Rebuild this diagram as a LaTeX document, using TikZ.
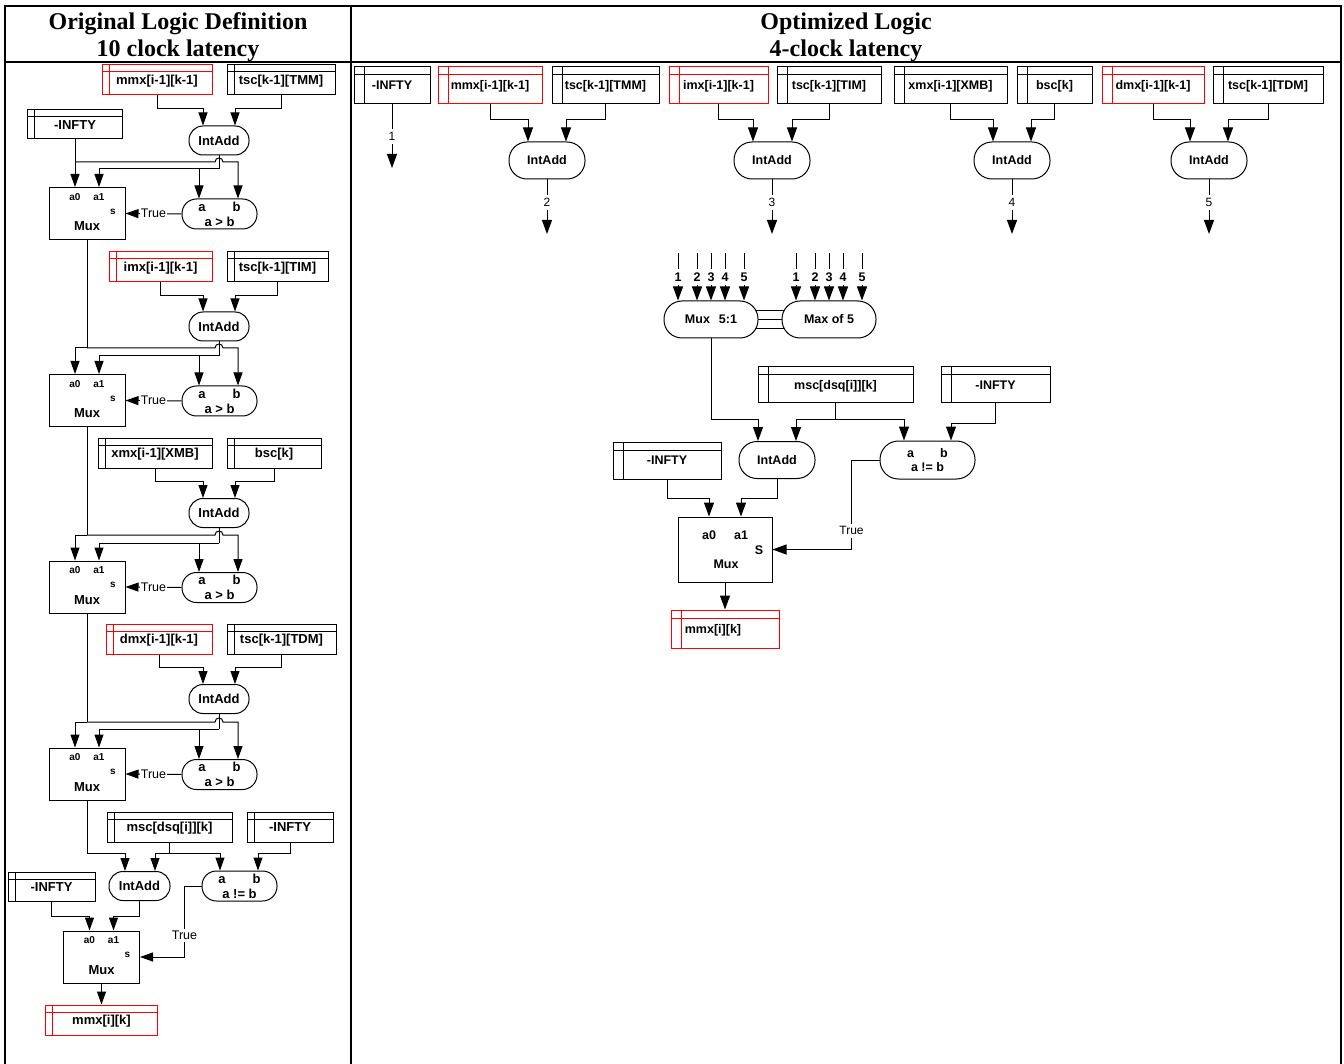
\documentclass[tikz,border=0pt]{standalone}
\usepackage{fontspec}
\setmainfont{Liberation Serif}
\newfontfamily\arialfont{Liberation Sans}
\usetikzlibrary{arrows.meta,backgrounds,calc}

\tikzset{
  wire/.style={line width=1pt},
  arrL/.style={wire,-{Triangle[length=13pt,width=9pt]}},
  arrR/.style={wire,-{Triangle[length=14pt,width=10pt]}},
  frameline/.style={line width=2.4pt},
  titletext/.style={font=\bfseries\fontsize{24}{27}\selectfont, align=center, inner sep=0pt},
  fL/.style={font=\arialfont\bfseries\fontsize{13}{15}\selectfont},
  fR/.style={font=\arialfont\bfseries\fontsize{12.5}{14}\selectfont},
  fS/.style={font=\arialfont\bfseries\fontsize{10}{12}\selectfont},
  fLplain/.style={font=\arialfont\fontsize{12.5}{15}\selectfont},
  fRplain/.style={font=\arialfont\fontsize{12}{14}\selectfont},
  capL/.style={text height=9.3pt, text depth=0pt},
  capR/.style={text height=8.9pt, text depth=0pt},
  store/.style n args={3}{draw=#3, line width=1pt, fill=white, inner sep=0pt,
    path picture={
      \draw[line width=1pt,#3]
        ([xshift=#1]path picture bounding box.north west) --
        ([xshift=#1]path picture bounding box.south west)
        ([yshift=-#2]path picture bounding box.north west) --
        ([yshift=-#2]path picture bounding box.north east);
    }},
  storeL/.style={store={7pt}{7pt}{black}, fL, capL, minimum height=30pt},
  storeLred/.style={store={7pt}{7pt}{red}, fL, capL, minimum height=30pt},
  storeR/.style={store={10pt}{8pt}{black}, fR, capR, minimum height=37pt},
  storeRred/.style={store={10pt}{8pt}{red}, fR, capR, minimum height=37pt},
  roundbox/.style={draw, line width=1pt, fill=white, inner sep=0pt, align=center},
  addL/.style={roundbox, fL, capL, rounded corners=14pt, minimum width=60pt, minimum height=29pt},
  cmpL/.style={roundbox, fL, rounded corners=14.5pt, minimum width=75pt, minimum height=30pt},
  addR/.style={roundbox, fR, capR, rounded corners=18pt, minimum width=76pt, minimum height=37pt},
  cmpR/.style={roundbox, fR, rounded corners=18.5pt, minimum width=95pt, minimum height=38pt},
  muxbox/.style={draw, line width=1pt, fill=white, inner sep=0pt},
  tag/.style={inner sep=0pt},
  gapL/.style={fLplain, fill=white, inner xsep=1pt, inner ysep=2pt},
  gapR/.style={fRplain, fill=white, inner xsep=2pt, inner ysep=3pt},
  numR/.style={fRplain, fill=white, inner xsep=1pt, inner ysep=3.5pt},
  numB/.style={fR, fill=white, inner xsep=1pt, inner ysep=3.5pt},
}

% two-input multiplexer of the left column
\newcommand{\muxL}[3]{%
  \node[muxbox, minimum width=76pt, minimum height=52pt] (#1) at (#2,#3) {};
  \node[fS, tag] (#1-a0) at ($(#1.center)+(-12,-16.5)$) {a0};
  \node[fS, tag] (#1-a1) at ($(#1.center)+(12,-16.5)$) {a1};
  \node[fS, tag] (#1-s) at ($(#1.center)+(26,-2)$) {s};
  \node[fL, tag] (#1-t) at ($(#1.center)+(0,13)$) {Mux};
}

% add / compare / select stage of the sequential chain
% #1 id, #2 #3 input boxes, #4 adder y, #5 mux y, #6 running-max y, #7 sum y
\newcommand{\accstage}[7]{%
  \node[addL] (#1add) at (219,#4) {IntAdd};
  \muxL{#1mux}{87}{#5}
  \node[cmpL] (#1cmp) at (219.5,#5+0.5) {a\hspace{27pt}b\\a > b};
  \coordinate (#1inL) at ($(#1add.north)+(-16,0)$);
  \coordinate (#1inR) at ($(#1add.north)+(16,0)$);
  \coordinate (#1sum) at (219,#7);
  \coordinate (#1pa) at ($(#1cmp.north)+(-20.5,0)$);
  \coordinate (#1pb) at ($(#1cmp.north)+(18.5,0)$);
  \draw[arrL] (#2.south) -- ++(0,13) -| (#1inL);
  \draw[arrL] (#3.south) -- ++(0,13) -| (#1inR);
  \draw[wire] (#1add.south) -- (#1sum);
  \draw[arrL] (#1sum) -| ($(#1mux.north)+(12,0)$);
  \draw[arrL] (#1pa |- #1sum) -- (#1pa);
  \draw[arrL] (#1run) -| ($(#1mux.north)+(-12,0)$);
  \draw[arrL] (#1run) -- (215,#6) .. controls (215,#6-5.3) and (223,#6-5.3) .. (223,#6) -| (#1pb);
  \draw[arrL] (#1cmp.west) -- (#1mux.east) node[midway, gapL] (#1true) {True};
}

\begin{document}
\begin{tikzpicture}[x=1pt,y=-1pt]
\useasboundingbox (0,0) rectangle (1344,1064);

% table frame
\draw[frameline] (4.7,1064) -- (4.7,6) -- (1341,6) -- (1341,1064);
\draw[frameline] (4.7,62) -- (1341,62);
\draw[frameline] (351,6) -- (351,1064);

\node[titletext] (titleL) at (178,37) {Original Logic Definition\\10 clock latency};
\node[titletext] (titleR) at (846,37) {Optimized Logic\\4-clock latency};

% ================= left column: sequential chain =================
\node[storeLred, minimum width=110pt] (Lmmx) at (157,80) {mmx[i-1][k-1]};
\node[storeL, minimum width=108pt] (Ltmm) at (281,80) {tsc[k-1][TMM]};
\node[storeL, minimum width=95pt, minimum height=29pt] (Linf1) at (75,124.5) {-INFTY};
\coordinate (S1run) at (75,162);
\draw[wire] (Linf1.south) -- (S1run);
\accstage{S1}{Lmmx}{Ltmm}{140.5}{213.5}{162}{169}

\node[storeLred, minimum width=103pt] (Limx) at (160.5,267) {imx[i-1][k-1]};
\node[storeL, minimum width=101pt] (Ltim) at (277.5,267) {tsc[k-1][TIM]};
\coordinate (S2run) at (87,348);
\draw[wire] (S1mux.south) -- (S2run);
\accstage{S2}{Limx}{Ltim}{326.5}{400.5}{348}{356}

\node[storeL, minimum width=114pt] (Lxmx) at (155,453) {xmx[i-1][XMB]};
\node[storeL, minimum width=94pt] (Lbsc) at (274,453) {bsc[k]};
\coordinate (S3run) at (87,535);
\draw[wire] (S2mux.south) -- (S3run);
\accstage{S3}{Lxmx}{Lbsc}{513}{587}{535}{543}

\node[storeLred, minimum width=106pt] (Ldmx) at (159,639) {dmx[i-1][k-1]};
\node[storeL, minimum width=109pt] (Ltdm) at (281.5,639) {tsc[k-1][TDM]};
\coordinate (S4run) at (87,722);
\draw[wire] (S3mux.south) -- (S4run);
\accstage{S4}{Ldmx}{Ltdm}{699}{774}{722}{729}

% final select
\node[storeL, minimum width=125pt] (Lmsc) at (169.5,827) {msc[dsq[i]][k]};
\node[storeL, minimum width=86pt] (Linf2) at (290,827) {-INFTY};
\node[storeL, minimum width=87pt, minimum height=29pt] (Linf3) at (51.5,886.5) {-INFTY};
\node[addL, minimum width=61pt] (Ladd5) at (139.5,886) {IntAdd};
\node[cmpL] (Lcmpne) at (239.5,886) {a\hspace{27pt}b\\a != b};
\muxL{Lmux5}{101.5}{957}
\node[storeLred, minimum width=112pt] (Lout) at (101.5,1020) {mmx[i][k]};

\draw[arrL] (S4mux.south) -- ++(0,53) -| ($(Ladd5.north)+(-14.5,0)$);
\draw[arrL] (Lmsc.south) -- ++(0,11) -| ($(Ladd5.north)+(15.5,0)$);
\draw[arrL] (Lmsc.south) -- ++(0,11) -| ($(Lcmpne.north)+(-19.5,0)$);
\draw[arrL] (Linf2.south) -- ++(0,11) -| ($(Lcmpne.north)+(18.5,0)$);
\draw[arrL] (Linf3.south) -- ++(0,15) -| ($(Lmux5.north)+(-12,0)$);
\draw[arrL] (Ladd5.south) -- ++(0,15) -| ($(Lmux5.north)+(12,0)$);
\draw[arrL] (Lcmpne.west) -- ++(-17,0) |- (Lmux5.east) node[pos=0.35, gapL] (Ltrue5) {True};
\draw[arrL] (Lmux5.south) -- (Lout.north);

% ================= right column: parallel form =================
\node[storeR, minimum width=76pt] (Rinf1) at (392,85.5) {-INFTY};
\node[storeRred, minimum width=104pt] (Rmmx) at (490,85.5) {mmx[i-1][k-1]};
\node[storeR, minimum width=107pt] (Rtmm) at (605.5,85.5) {tsc[k-1][TMM]};
\node[storeRred, minimum width=99pt] (Rimx) at (718.5,85.5) {imx[i-1][k-1]};
\node[storeR, minimum width=104pt] (Rtim) at (829,85.5) {tsc[k-1][TIM]};
\node[storeR, minimum width=113pt] (Rxmx) at (950.5,85.5) {xmx[i-1][XMB]};
\node[storeR, minimum width=75pt] (Rbsc) at (1054.5,85.5) {bsc[k]};
\node[storeRred, minimum width=102pt] (Rdmx) at (1153,85.5) {dmx[i-1][k-1]};
\node[storeR, minimum width=110pt] (Rtdm) at (1268,85.5) {tsc[k-1][TDM]};

\node[addR] (RaddA) at (547,160.5) {IntAdd};
\node[addR] (RaddB) at (772,160.5) {IntAdd};
\node[addR] (RaddC) at (1012,160.5) {IntAdd};
\node[addR] (RaddD) at (1209,160.5) {IntAdd};

\draw[arrR] (Rmmx.south) -- ++(0,15) -| ($(RaddA.north)+(-19,0)$);
\draw[arrR] (Rtmm.south) -- ++(0,15) -| ($(RaddA.north)+(19,0)$);
\draw[arrR] (Rimx.south) -- ++(0,15) -| ($(RaddB.north)+(-19,0)$);
\draw[arrR] (Rtim.south) -- ++(0,15) -| ($(RaddB.north)+(20,0)$);
\draw[arrR] (Rxmx.south) -- ++(0,15) -| ($(RaddC.north)+(-19,0)$);
\draw[arrR] (Rbsc.south) -- ++(0,15) -| ($(RaddC.north)+(19,0)$);
\draw[arrR] (Rdmx.south) -- ++(0,15) -| ($(RaddD.north)+(-19,0)$);
\draw[arrR] (Rtdm.south) -- ++(0,15) -| ($(RaddD.north)+(19,0)$);

\coordinate (o1) at (392,168);
\coordinate (o2) at (547,234);
\coordinate (o3) at (772,234);
\coordinate (o4) at (1012,234);
\coordinate (o5) at (1209,234);
\draw[arrR] (Rinf1.south) -- (o1) node[midway, numR] (n1) {1};
\draw[arrR] (RaddA.south) -- (o2) node[pos=0.42, numR] (n2) {2};
\draw[arrR] (RaddB.south) -- (o3) node[pos=0.42, numR] (n3) {3};
\draw[arrR] (RaddC.south) -- (o4) node[pos=0.42, numR] (n4) {4};
\draw[arrR] (RaddD.south) -- (o5) node[pos=0.42, numR] (n5) {5};

% select and max of the five candidates
\node[addR, minimum width=94pt] (Rsel) at (711,319.5) {Mux\hspace{9pt}5:1};
\node[addR, minimum width=94pt] (Rmax) at (829,319.5) {Max of 5};
\begin{pgfonlayer}{background}
  \foreach \dy in {-9,0,9}
    \draw[wire] ($(Rsel.center)+(0,\dy)$) -- ($(Rmax.center)+(0,\dy)$);
\end{pgfonlayer}
\foreach \dx [count=\k] in {-33,-14,0,14,33} {
  \coordinate (si\k) at ($(Rsel.north)+(\dx,-47)$);
  \coordinate (mi\k) at ($(Rmax.north)+(\dx,-47)$);
  \draw[arrR] (si\k) -- ($(Rsel.north)+(\dx,0)$) node[midway, numB] {\k};
  \draw[arrR] (mi\k) -- ($(Rmax.north)+(\dx,0)$) node[midway, numB] {\k};
}

\node[storeR, minimum width=155pt, minimum height=36pt] (Rmsc) at (835.5,385) {msc[dsq[i]][k]};
\node[storeR, minimum width=109pt, minimum height=36pt] (Rinf2) at (995.5,385) {-INFTY};
\node[addR] (RaddE) at (777,460) {IntAdd};
\node[cmpR] (Rcmpne) at (927.5,460) {a\hspace{26pt}b\\a != b};
\node[storeR, minimum width=108pt] (Rinf3) at (667,460.5) {-INFTY};

\node[muxbox, minimum width=94pt, minimum height=65pt] (Rmux) at (725,549.5) {};
\node[fR, tag] (Rmux-a0) at ($(Rmux.center)+(-16,-14.5)$) {a0};
\node[fR, tag] (Rmux-a1) at ($(Rmux.center)+(16,-14.5)$) {a1};
\node[fR, tag] (Rmux-s) at ($(Rmux.center)+(34,0.5)$) {S};
\node[fR, tag] (Rmux-t) at ($(Rmux.center)+(1,14.5)$) {Mux};
\node[storeRred, minimum width=108pt, minimum height=38pt] (Rout) at (725,629) {mmx[i][k]\hspace*{24pt}};

\draw[arrR] (Rsel.south) -- ++(0,81) -| ($(RaddE.north)+(-19,0)$);
\draw[arrR] (Rmsc.south) -- ++(0,16) -| ($(RaddE.north)+(19,0)$);
\draw[arrR] (Rmsc.south) -- ++(0,16) -| ($(Rcmpne.north)+(-23.5,0)$);
\draw[arrR] (Rinf2.south) -- ++(0,20) -| ($(Rcmpne.north)+(23.5,0)$);
\draw[arrR] (Rinf3.south) -- ++(0,19) -| ($(Rmux.north)+(-16,0)$);
\draw[arrR] (RaddE.south) -- ++(0,19) -| ($(Rmux.north)+(16,0)$);
\draw[arrR] (Rcmpne.west) -- ++(-28,0) |- (Rmux.east) node[pos=0.395, gapR] (Rtrue) {True};
\draw[arrR] (Rmux.south) -- (Rout.north);

\end{tikzpicture}
\end{document}
